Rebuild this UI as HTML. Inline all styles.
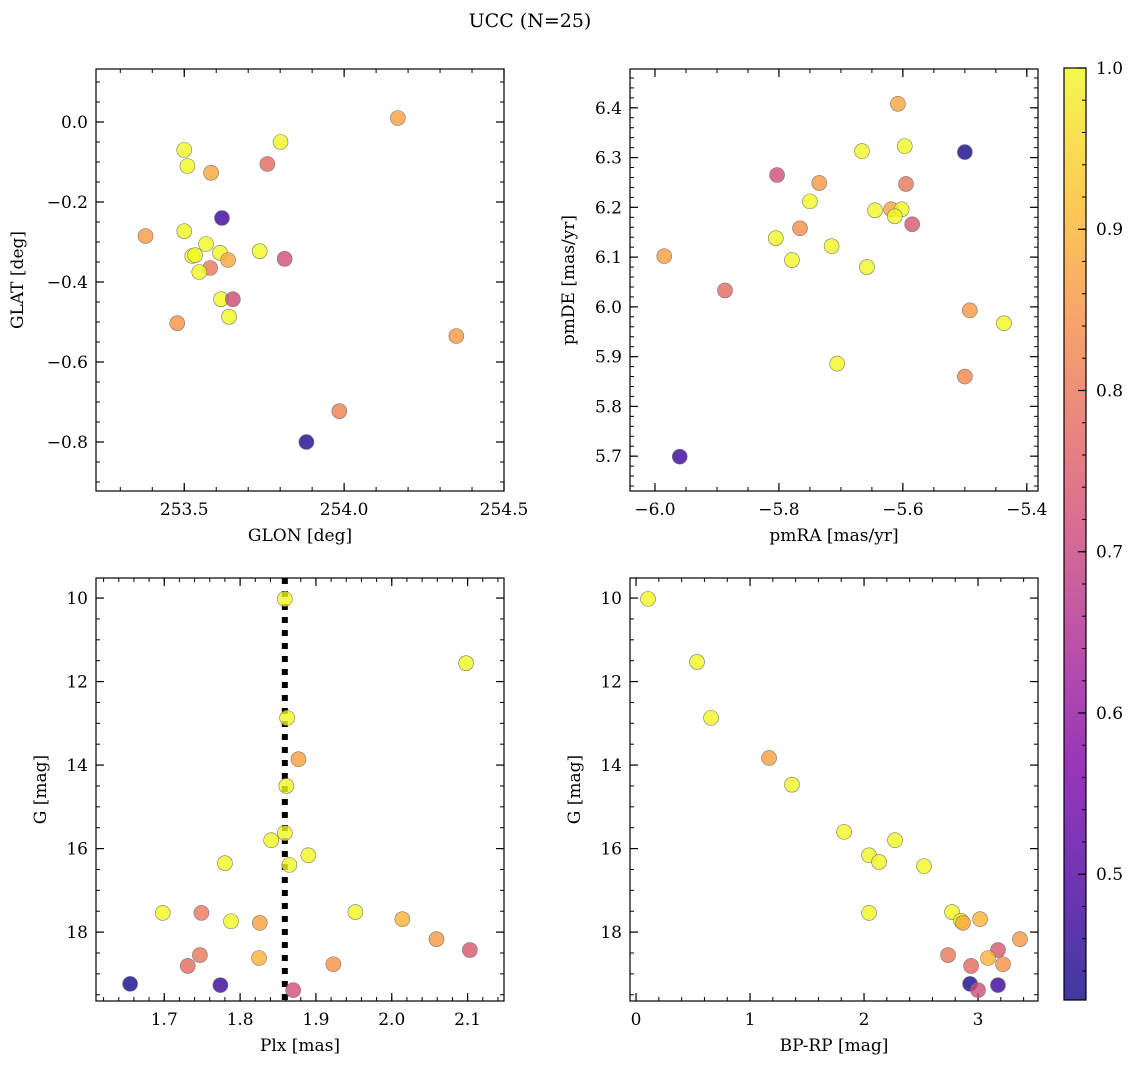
<!DOCTYPE html>
<html><head><meta charset="utf-8"><style>
html,body{margin:0;padding:0;background:#fff;}
svg text{font-family:"DejaVu Serif","Liberation Serif",serif;fill:#000;}
</style></head><body>
<svg id="fig" width="1136" height="1068" xmlns="http://www.w3.org/2000/svg">
<text x="530" y="27" font-size="19" text-anchor="middle">UCC (N=25)</text>
</svg>
<script>
// ---- data ----
const glon = [254.168,253.801,253.50,253.51,253.76,253.584,253.379,253.618,253.50,253.568,253.736,253.612,253.637,253.525,253.534,253.814,253.581,253.547,253.615,253.652,253.640,253.478,254.351,253.985,253.882];
const glat = [0.01,-0.05,-0.07,-0.11,-0.105,-0.127,-0.285,-0.24,-0.273,-0.305,-0.323,-0.327,-0.345,-0.335,-0.333,-0.342,-0.365,-0.375,-0.443,-0.443,-0.487,-0.503,-0.535,-0.723,-0.80];
const probA = [0.87,1.0,1.0,1.0,0.78,0.88,0.86,0.47,1.0,1.0,1.0,1.0,0.88,1.0,1.0,0.72,0.80,1.0,1.0,0.71,1.0,0.85,0.86,0.82,0.44];

const pmra = [-5.608,-5.666,-5.597,-5.500,-5.803,-5.735,-5.595,-5.750,-5.645,-5.619,-5.602,-5.613,-5.585,-5.766,-5.805,-5.715,-5.779,-5.658,-5.985,-5.887,-5.492,-5.437,-5.706,-5.500,-5.960];
const pmde = [6.408,6.313,6.323,6.311,6.265,6.249,6.247,6.212,6.194,6.196,6.196,6.182,6.166,6.158,6.138,6.122,6.094,6.08,6.102,6.033,5.993,5.967,5.886,5.860,5.699];
const probB = [0.88,1.0,1.0,0.43,0.72,0.86,0.80,1.0,1.0,0.88,1.0,1.0,0.74,0.84,1.0,1.0,1.0,1.0,0.87,0.78,0.86,1.0,1.0,0.83,0.47];

const plx = [1.859,2.098,1.862,1.877,1.861,1.859,1.841,1.890,1.780,1.865,1.698,1.749,1.788,1.826,1.952,2.014,2.059,2.103,1.747,1.731,1.825,1.923,1.655,1.774,1.870];
const gmagC = [10.02,11.56,12.87,13.86,14.50,15.63,15.80,16.16,16.35,16.39,17.54,17.54,17.74,17.78,17.52,17.69,18.17,18.43,18.55,18.81,18.62,18.77,19.24,19.27,19.39];
const probC = [1.0,1.0,1.0,0.87,1.0,1.0,1.0,1.0,1.0,1.0,1.0,0.80,1.0,0.87,1.0,0.90,0.86,0.74,0.80,0.78,0.90,0.85,0.43,0.47,0.72];
const plxMean = [1.859];

const bprp = [0.105,0.535,0.658,1.167,1.368,1.825,2.272,2.044,2.132,2.526,2.044,2.772,2.851,2.868,3.018,3.368,2.737,3.175,3.088,2.939,3.219,2.93,3.175,3.0];
const gmagD = [10.02,11.53,12.87,13.83,14.47,15.6,15.8,16.16,16.32,16.42,17.54,17.52,17.73,17.78,17.69,18.17,18.55,18.43,18.62,18.81,18.77,19.24,19.27,19.39];
const probD = [1.0,1.0,1.0,0.87,1.0,1.0,1.0,1.0,1.0,1.0,1.0,1.0,1.0,0.88,0.90,0.86,0.80,0.74,0.90,0.78,0.85,0.43,0.47,0.72];

const cbTicks = [0.5,0.6,0.7,0.8,0.9,1.0];
const cbMin = 0.422, cbMax = 1.0;

// ---- helpers ----
const NS = "http://www.w3.org/2000/svg";
const svg = document.getElementById('fig');
function mk(tag, attrs, parent){const e=document.createElementNS(NS,tag);for(const k in attrs)e.setAttribute(k,attrs[k]);(parent||svg).appendChild(e);return e;}
const plasma=[[13,8,135],[76,2,161],[126,3,168],[169,35,149],[204,71,120],[229,107,93],[248,148,65],[253,195,40],[240,249,33]];
function cmap(v){let t=(v-cbMin)/(cbMax-cbMin);t=Math.max(0,Math.min(1,t));const p=t*8;const i=Math.min(7,Math.floor(p));const f=p-i;const a=plasma[i],b=plasma[i+1];return `rgb(${Math.round(a[0]+(b[0]-a[0])*f)},${Math.round(a[1]+(b[1]-a[1])*f)},${Math.round(a[2]+(b[2]-a[2])*f)})`;}
function fmt(v,d){const s=v.toFixed(d);return s.replace('-','\u2212');}

function panel(cfg){
  const g=mk('g',{});
  
  
  const {L,T,R,B}=cfg;
  const sx=v=>L+(v-cfg.x0)/(cfg.x1-cfg.x0)*(R-L);
  const sy=v=>cfg.inv? T+(v-cfg.y0)/(cfg.y1-cfg.y0)*(B-T) : B-(v-cfg.y0)/(cfg.y1-cfg.y0)*(B-T);
  const ep=1e-9;
  for(let v=Math.ceil(cfg.x0/cfg.xmi-ep)*cfg.xmi; v<=cfg.x1+ep; v+=cfg.xmi){const x=sx(v);
    mk('line',{x1:x,x2:x,y1:B,y2:B-4,stroke:'#000','stroke-width':1},g);mk('line',{x1:x,x2:x,y1:T,y2:T+4,stroke:'#000','stroke-width':1},g);}
  for(let v=Math.ceil(cfg.y0/cfg.ymi-ep)*cfg.ymi; v<=cfg.y1+ep; v+=cfg.ymi){const y=sy(v);
    mk('line',{x1:L,x2:L+4,y1:y,y2:y,stroke:'#000','stroke-width':1},g);mk('line',{x1:R,x2:R-4,y1:y,y2:y,stroke:'#000','stroke-width':1},g);}
  cfg.xt.forEach(v=>{const x=sx(v);
    mk('line',{x1:x,x2:x,y1:B,y2:B-8,stroke:'#000','stroke-width':1.2},g);mk('line',{x1:x,x2:x,y1:T,y2:T+8,stroke:'#000','stroke-width':1.2},g);
    const t=mk('text',{x:x,y:B+24,'font-size':17,'text-anchor':'middle'},g);t.textContent=fmt(v,cfg.xd);
    
    });
  cfg.yt.forEach(v=>{const y=sy(v);
    mk('line',{x1:L,x2:L+8,y1:y,y2:y,stroke:'#000','stroke-width':1.2},g);mk('line',{x1:R,x2:R-8,y1:y,y2:y,stroke:'#000','stroke-width':1.2},g);
    const t=mk('text',{x:L-8,y:y+6,'font-size':17,'text-anchor':'end'},g);t.textContent=fmt(v,cfg.yd);
    
    });
  if(cfg.vline!==undefined){const x=sx(cfg.vline);
    const ln=mk('line',{x1:x,x2:x,y1:T,y2:B,stroke:'#000','stroke-width':6,'stroke-dasharray':'6,7'},g);
    
    }
  cfg.xs.forEach((xv,i)=>{
    const c=mk('circle',{cx:sx(xv),cy:sy(cfg.ys[i]),r:7.5,fill:cmap(cfg.cs[i]),'fill-opacity':0.8,stroke:'#777','stroke-width':0.6},g);
    
    
  });
  mk('rect',{x:L,y:T,width:R-L,height:B-T,fill:'none',stroke:'#000','stroke-width':1.2},g);
  const xl=mk('text',{x:(L+R)/2,y:B+50,'font-size':17,'text-anchor':'middle'},g);xl.textContent=cfg.xl;
  
  
  const yx=L-cfg.ylo, yy=(T+B)/2;
  const yl=mk('text',{x:yx,y:yy,'font-size':17,'text-anchor':'middle',transform:`rotate(-90 ${yx} ${yy})`},g);yl.textContent=cfg.yl;
  
  
}

panel({name:'glon-glat-panel',L:96,T:69,R:504,B:491,ylo:73,x0:253.224,x1:254.5,y0:-0.9225,y1:0.1325,xt:[253.5,254.0,254.5],xd:1,xmi:0.1,yt:[-0.8,-0.6,-0.4,-0.2,0.0],yd:1,ymi:0.05,xs:glon,ys:glat,cs:probA,xl:'GLON [deg]',yl:'GLAT [deg]'});
panel({name:'pm-panel',L:630,T:69,R:1038,B:491,ylo:56,x0:-6.0403,x1:-5.382,y0:5.63,y1:6.478,xt:[-6.0,-5.8,-5.6,-5.4],xd:1,xmi:0.05,yt:[5.7,5.8,5.9,6.0,6.1,6.2,6.3,6.4],yd:1,ymi:0.02,xs:pmra,ys:pmde,cs:probB,xl:'pmRA [mas/yr]',yl:'pmDE [mas/yr]'});
panel({name:'plx-g-panel',L:96,T:578,R:504,B:1001,ylo:50,x0:1.61,x1:2.148,y0:9.52,y1:19.65,inv:true,xt:[1.7,1.8,1.9,2.0,2.1],xd:1,xmi:0.02,yt:[10,12,14,16,18],yd:0,ymi:0.5,xs:plx,ys:gmagC,cs:probC,vline:plxMean[0],xl:'Plx [mas]',yl:'G [mag]'});
panel({name:'cmd-panel',L:630,T:578,R:1038,B:1001,ylo:50,x0:-0.053,x1:3.526,y0:9.52,y1:19.65,inv:true,xt:[0,1,2,3],xd:0,xmi:0.2,yt:[10,12,14,16,18],yd:0,ymi:0.5,xs:bprp,ys:gmagD,cs:probD,xl:'BP-RP [mag]',yl:'G [mag]'});

// colorbar
(function(){
  const L=1064,R=1086,T=68,B=1000;
  const g=mk('g',{});
  
  
  const defs=mk('defs',{},g);
  const lg=mk('linearGradient',{id:'cbg',x1:0,y1:1,x2:0,y2:0},defs);
  for(let i=0;i<=20;i++){const v=cbMin+(cbMax-cbMin)*i/20;mk('stop',{offset:i/20,'stop-color':cmap(v),'stop-opacity':0.8},lg);}
  mk('rect',{x:L,y:T,width:R-L,height:B-T,fill:'url(#cbg)'},g);
  const sy=v=>B-(v-cbMin)/(cbMax-cbMin)*(B-T);
  for(let v=0.44;v<=1.0001;v+=0.02){const y=sy(v);mk('line',{x1:R,x2:R-4,y1:y,y2:y,stroke:'#000','stroke-width':1},g);}
  cbTicks.forEach(v=>{const y=sy(v);mk('line',{x1:R,x2:R-8,y1:y,y2:y,stroke:'#000','stroke-width':1.2},g);
    const t=mk('text',{x:R+10,y:y+6,'font-size':17},g);t.textContent=v.toFixed(1);
    
    });
  mk('rect',{x:L,y:T,width:R-L,height:B-T,fill:'none',stroke:'#000','stroke-width':1.2},g);
})();
</script>
</body></html>
